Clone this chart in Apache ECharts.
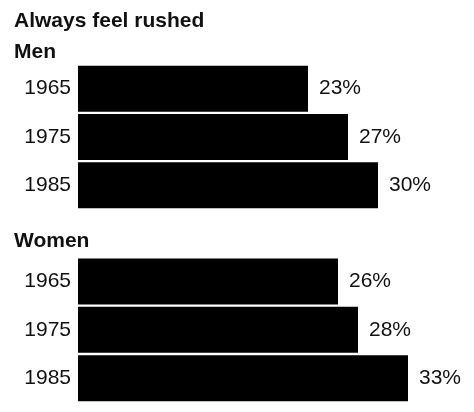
<!DOCTYPE html>
<html>
<head>
<meta charset="utf-8">
<script src="https://cdn.jsdelivr.net/npm/echarts@6/dist/echarts.min.js"></script>
<style>
  html, body { margin: 0; padding: 0; background: #fff; }
  #chart { width: 474px; height: 412px; }
</style>
</head>
<body>
<div id="chart"></div>
<script>
// Share of people who say they always feel rushed, by survey year
const years = ['1965', '1975', '1985'];
const menValues = [23, 27, 30];
const womenValues = [26, 28, 33];
const chartTitle = 'Always feel rushed';
const groupNames = ['Men', 'Women'];

const FONT = '"Liberation Sans", Arial, Helvetica, sans-serif';
const INK = '#111';

const chart = echarts.init(document.getElementById('chart'), null, { renderer: 'canvas' });

const grids = [
  { left: 78, width: 390, top: 64.5, height: 145 },
  { left: 78, width: 390, top: 257.3, height: 145 }
];

function xAxisFor(i) {
  return {
    type: 'value', gridIndex: i, min: 0, max: 39,
    show: false
  };
}

function yAxisFor(i) {
  return {
    type: 'category', gridIndex: i, data: years, inverse: true,
    axisLine: { show: false }, axisTick: { show: false },
    axisLabel: { fontFamily: FONT, fontSize: 21, color: INK, margin: 7 }
  };
}

function seriesFor(i, values) {
  return {
    type: 'bar', xAxisIndex: i, yAxisIndex: i, data: values,
    barWidth: 46,
    itemStyle: { color: '#000' },
    label: {
      show: true, position: 'right', distance: 11,
      formatter: '{c}%', fontFamily: FONT, fontSize: 21, color: INK
    },
    silent: true, animation: false
  };
}

chart.setOption({
  animation: false,
  backgroundColor: '#fff',
  title: [
    { text: chartTitle, left: 14, top: 11, padding: 0,
      textStyle: { fontFamily: FONT, fontWeight: 'bold', fontSize: 21, color: INK } },
    { text: groupNames[0], left: 14, top: 42, padding: 0,
      textStyle: { fontFamily: FONT, fontWeight: 'bold', fontSize: 21, color: INK } },
    { text: groupNames[1], left: 14, top: 231, padding: 0,
      textStyle: { fontFamily: FONT, fontWeight: 'bold', fontSize: 21, color: INK } }
  ],
  grid: grids,
  xAxis: [xAxisFor(0), xAxisFor(1)],
  yAxis: [yAxisFor(0), yAxisFor(1)],
  series: [seriesFor(0, menValues), seriesFor(1, womenValues)]
});
</script>
</body>
</html>
